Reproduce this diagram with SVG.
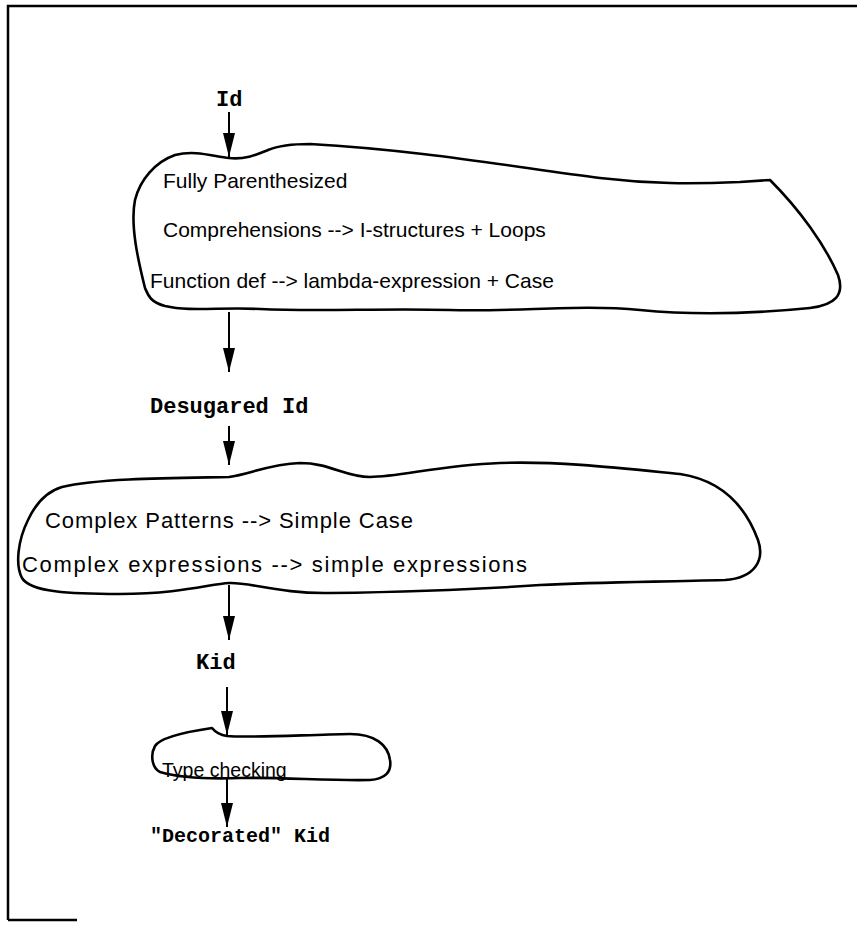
<svg xmlns="http://www.w3.org/2000/svg" width="857" height="925" viewBox="0 0 857 925">
<style>
.frame{fill:none;stroke:#000;stroke-width:2.5}
.blob{fill:none;stroke:#000;stroke-width:2.6;stroke-linejoin:round}
.conn{stroke:#000;stroke-width:2;fill:none}
.sans{font-family:"Liberation Sans",Arial,sans-serif;font-size:21px;fill:#000}
.big{font-size:22px}
.mono{font-family:"Liberation Mono","Courier New",monospace;font-size:22px;font-weight:bold;fill:#000}
</style>
<defs>
<marker id="ah" viewBox="0 0 24 12" refX="24" refY="6" markerWidth="24" markerHeight="12" markerUnits="userSpaceOnUse" orient="auto">
<path d="M0,0 L24,6 L0,12 Z" fill="#000"/>
</marker>
</defs>
<rect width="857" height="925" fill="#fff"/>
<path class="frame" d="M8,920 L8,6 L857,6 M8,920 L77,920"/>

<g id="id-label"><text class="mono" x="216" y="106">Id</text></g>

<g id="blob1">
<path class="blob" d="M229,158 C245,160 258,154 268,150 C280,145 295,144 310,144 C420,150 520,168 600,178 C650,184 690,184 740,182 L770,180 C800,210 825,245 838,275 C845,295 835,305 810,308 C760,313 700,316 640,310 C580,304 520,312 450,310 C380,308 320,312 260,309 C220,307 190,312 165,306 C150,302 148,295 145,288 C138,260 130,225 135,200 C140,180 155,162 175,155 C195,150 212,156 229,158 Z"/>
<text class="sans" x="163" y="188">Fully Parenthesized</text>
<text class="sans" x="163" y="237">Comprehensions --&gt; I-structures + Loops</text>
<text class="sans" x="150" y="288">Function def --&gt; lambda-expression + Case</text>
</g>

<g id="desugared-label"><text class="mono" x="150" y="413">Desugared Id</text></g>

<g id="blob2">
<path class="blob" d="M229,477 C250,474 270,464 300,463 C330,463 345,477 370,477 C400,477 440,465 500,463 C560,461 620,468 680,474 C720,480 745,505 758,540 C765,560 755,578 725,580 C650,582 600,582 540,585 C470,590 400,592 330,593 C280,594 250,582 229,583 C210,584 180,594 120,594 C70,594 30,592 22,578 C15,565 18,540 28,520 C35,505 45,492 62,487 C100,478 180,478 229,477 Z"/>
<text class="sans big" x="45" y="528" textLength="368" lengthAdjust="spacing">Complex Patterns --&gt; Simple Case</text>
<text class="sans big" x="22" y="572" textLength="505" lengthAdjust="spacing">Complex expressions --&gt; simple expressions</text>
</g>

<g id="kid-label"><text class="mono" x="196" y="669">Kid</text></g>

<g id="blob3">
<path class="blob" d="M227,736 C250,738 300,735 350,734 C375,734 388,745 390,760 C392,772 385,779 370,780 C330,781 280,777 240,778 C210,779 180,778 160,772 C152,768 150,755 155,746 C160,738 185,732 212,728 C216,733 220,735 227,736 Z"/>
<text class="sans" x="162" y="777" style="font-size:19.5px">Type checking</text>
</g>

<g id="decorated-label"><text class="mono" x="150" y="842" style="font-size:20px">"Decorated" Kid</text></g>

<g id="connectors">
<line class="conn" x1="229" y1="112" x2="229" y2="157" marker-end="url(#ah)"/>
<line class="conn" x1="229" y1="312" x2="229" y2="372" marker-end="url(#ah)"/>
<line class="conn" x1="229" y1="426" x2="229" y2="465" marker-end="url(#ah)"/>
<line class="conn" x1="229" y1="585" x2="229" y2="640" marker-end="url(#ah)"/>
<line class="conn" x1="227" y1="687" x2="227" y2="735" marker-end="url(#ah)"/>
<line class="conn" x1="227" y1="779" x2="227" y2="827" marker-end="url(#ah)"/>
</g>
</svg>
